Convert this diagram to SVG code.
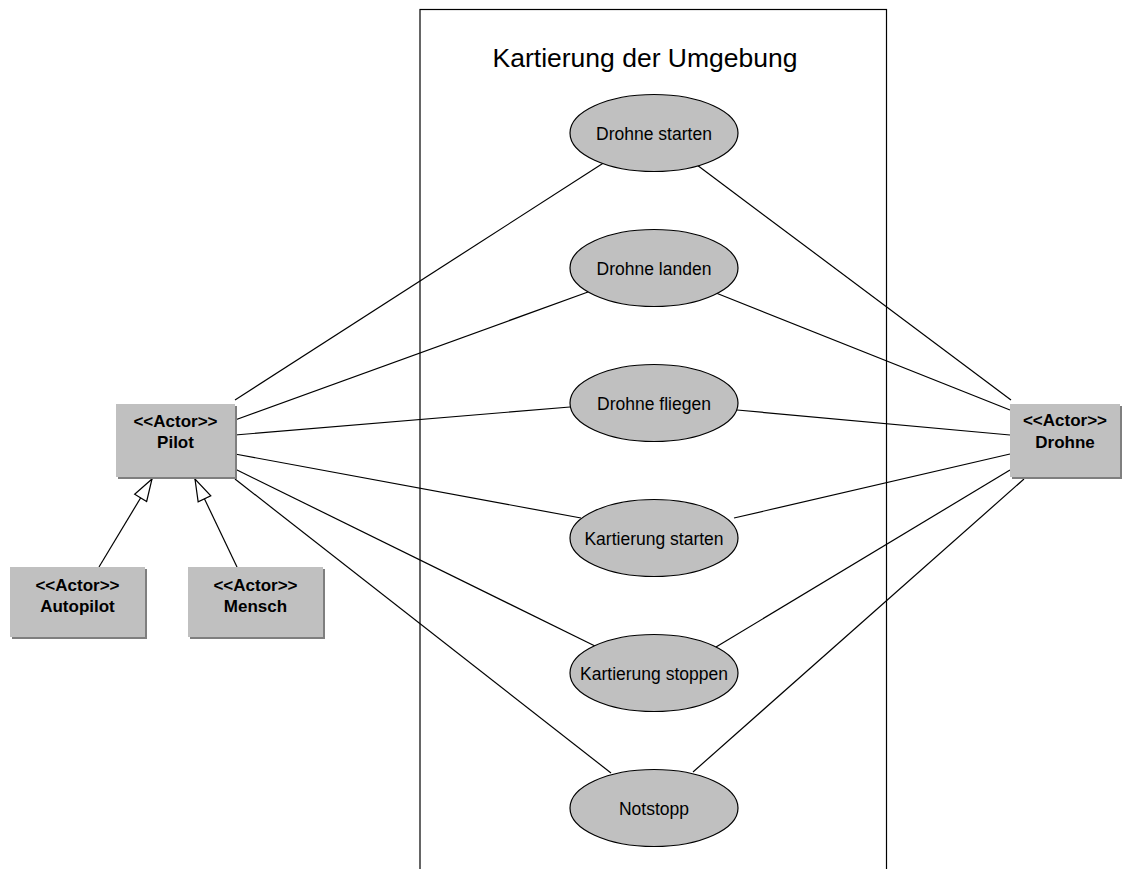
<svg xmlns="http://www.w3.org/2000/svg" width="1123" height="869" viewBox="0 0 1123 869">
  <style>
    .actor rect.body { fill: #c0c0c0; }
    .actor rect.shadow { fill: #7f7f7f; }
    .actor text { font-family: "Liberation Sans", Arial, sans-serif; font-size: 17px; font-weight: bold; text-anchor: middle; fill: #000; }
    .usecase ellipse { fill: #c0c0c0; stroke: #000; stroke-width: 1.2; }
    .usecase text { font-family: "Liberation Sans", Arial, sans-serif; font-size: 17.5px; text-anchor: middle; fill: #000; }
    .conn line { stroke: #000; stroke-width: 1.2; fill: none; }
    .title { font-family: "Liberation Sans", Arial, sans-serif; font-size: 26.5px; text-anchor: middle; fill: #000; }
  </style>
  <defs>
    <marker id="gen" viewBox="0 0 24 16" refX="23" refY="8" markerWidth="24" markerHeight="16" markerUnits="userSpaceOnUse" orient="auto">
      <path d="M1,1 L23,8 L1,15 Z" fill="#fff" stroke="#000" stroke-width="1.2"/>
    </marker>
  </defs>
  <rect width="1123" height="869" fill="#fff"/>

  <!-- system boundary -->
  <g id="system">
    <rect x="420" y="9.5" width="466.5" height="880" fill="none" stroke="#000" stroke-width="1.2"/>
    <text class="title" x="645" y="67">Kartierung der Umgebung</text>
  </g>

  <!-- associations and generalizations -->
  <g id="connectors" class="conn">
    <line x1="235" y1="400" x2="605" y2="162"/>
    <line x1="235" y1="420" x2="588" y2="292"/>
    <line x1="235" y1="435" x2="570" y2="407"/>
    <line x1="235" y1="454" x2="581" y2="518"/>
    <line x1="235" y1="469" x2="597" y2="647"/>
    <line x1="235" y1="479" x2="611" y2="773"/>
    <line x1="697" y1="165" x2="1011" y2="400"/>
    <line x1="716" y1="293" x2="1010" y2="410"/>
    <line x1="737" y1="410" x2="1010" y2="435"/>
    <line x1="734" y1="518" x2="1010" y2="454"/>
    <line x1="716" y1="647" x2="1010" y2="470"/>
    <line x1="693" y1="772" x2="1024" y2="479"/>
    <line x1="99" y1="567" x2="152" y2="479" marker-end="url(#gen)"/>
    <line x1="237" y1="567" x2="195" y2="479" marker-end="url(#gen)"/>
  </g>

  <!-- use cases -->
  <g id="uc-drohne-starten" class="usecase">
    <ellipse cx="654" cy="133" rx="84" ry="38.5"/>
    <text x="654" y="139.5">Drohne starten</text>
  </g>
  <g id="uc-drohne-landen" class="usecase">
    <ellipse cx="654" cy="268" rx="84" ry="38.5"/>
    <text x="654" y="274.5">Drohne landen</text>
  </g>
  <g id="uc-drohne-fliegen" class="usecase">
    <ellipse cx="654" cy="403" rx="84" ry="38.5"/>
    <text x="654" y="409.5">Drohne fliegen</text>
  </g>
  <g id="uc-kartierung-starten" class="usecase">
    <ellipse cx="654" cy="538" rx="84" ry="38.5"/>
    <text x="654" y="544.5">Kartierung starten</text>
  </g>
  <g id="uc-kartierung-stoppen" class="usecase">
    <ellipse cx="654" cy="673" rx="84" ry="38.5"/>
    <text x="654" y="679.5">Kartierung stoppen</text>
  </g>
  <g id="uc-notstopp" class="usecase">
    <ellipse cx="654" cy="808" rx="84" ry="38.5"/>
    <text x="654" y="814.5">Notstopp</text>
  </g>

  <!-- actors -->
  <g id="actor-pilot" class="actor">
    <rect class="shadow" x="118" y="406" width="119" height="73"/>
    <rect class="body" x="116" y="404" width="119" height="73"/>
    <text x="175.5" y="427">&lt;&lt;Actor&gt;&gt;</text>
    <text x="175.5" y="448">Pilot</text>
  </g>
  <g id="actor-drohne" class="actor">
    <rect class="shadow" x="1012" y="406" width="110" height="73"/>
    <rect class="body" x="1010" y="404" width="110" height="73"/>
    <text x="1065" y="426">&lt;&lt;Actor&gt;&gt;</text>
    <text x="1065" y="448">Drohne</text>
  </g>
  <g id="actor-autopilot" class="actor">
    <rect class="shadow" x="12" y="569" width="135" height="70"/>
    <rect class="body" x="10" y="567" width="135" height="70"/>
    <text x="77.5" y="591">&lt;&lt;Actor&gt;&gt;</text>
    <text x="77.5" y="612">Autopilot</text>
  </g>
  <g id="actor-mensch" class="actor">
    <rect class="shadow" x="190" y="569" width="135" height="70"/>
    <rect class="body" x="188" y="567" width="135" height="70"/>
    <text x="255.5" y="591">&lt;&lt;Actor&gt;&gt;</text>
    <text x="255.5" y="612">Mensch</text>
  </g>
</svg>
